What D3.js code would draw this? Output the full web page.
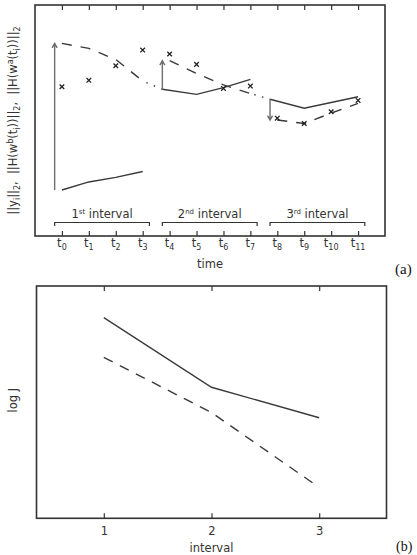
<!DOCTYPE html>
<html>
<head>
<meta charset="utf-8">
<script src="https://cdn.jsdelivr.net/npm/d3@7"></script>
<style>
  html, body { margin: 0; padding: 0; background: #fff; }
  svg { display: block; }
  text { font-family: "DejaVu Sans", sans-serif; fill: #333; }
  .serif { font-family: "Liberation Serif", "DejaVu Serif", serif; fill: #111; }
</style>
</head>
<body>
<svg id="chart" width="417" height="555"></svg>
<script>
// ---------- data: panel (a) ----------
const timeIndex = [0, 1, 2, 3, 4, 5, 6, 7, 8, 9, 10, 11];
const obsValues = [6.46, 6.74, 7.37, 8.05, 7.88, 7.43, 6.39, 6.49, 5.10, 4.87, 5.38, 5.87];

const intervalOrdinal = ["1", "2", "3"];
const intervalSuffix = ["st", "nd", "rd"];
const intervalStart = [-0.27, 3.73, 7.73];
const intervalEnd = [3.25, 7.25, 11.25];

// background trajectory (solid) per interval
const bgTimes1 = [0, 1, 2, 3];      const bgValues1 = [1.99, 2.34, 2.54, 2.79];
const bgTimes2 = [3.73, 5, 6, 7];   const bgValues2 = [6.35, 6.13, 6.42, 6.78];
const bgTimes3 = [7.73, 9, 11];     const bgValues3 = [5.92, 5.53, 6.03];

// analysis trajectory (dashed) per interval
const anTimes1 = [0, 1, 2, 3];      const anValues1 = [8.34, 8.12, 7.64, 6.71];
const anTimes2 = [4, 5, 6, 7];      const anValues2 = [7.59, 7.04, 6.54, 6.17];
const anTimes3 = [8, 9, 10, 11];    const anValues3 = [5.02, 4.87, 5.32, 5.74];

// ---------- data: panel (b) ----------
const intervals = [1, 2, 3];
const logJSolid = [8.64, 5.64, 4.33];
const logJDashed = [6.93, 4.55, 1.33];

// ---------- drawing ----------
const svg = d3.select("#chart");
const frameColor = "#333";
const lineColor = "#3a3a3a";
const arrowColor = "#6e6e6e";
const SP = "\u00a0\u00a0";

// Panel (a)
const A = { left: 35, right: 385, top: 5, bottom: 236 };
const xA = d3.scaleLinear().domain([-1, 12]).range([A.left, A.right]);
const yA = d3.scaleLinear().domain([0, 10]).range([A.bottom, A.top]);
const gA = svg.append("g");

gA.append("rect").attr("x", A.left).attr("y", A.top)
  .attr("width", A.right - A.left).attr("height", A.bottom - A.top)
  .attr("fill", "none").attr("stroke", frameColor).attr("stroke-width", 1.6);

// ticks inward top & bottom
const axBottomA = d3.axisBottom(xA).tickValues(timeIndex).tickSize(-5).tickFormat("");
const axTopA = d3.axisTop(xA).tickValues(timeIndex).tickSize(-5).tickFormat("");
gA.append("g").attr("transform", `translate(0,${A.bottom})`).call(axBottomA)
  .call(g => { g.select(".domain").remove(); g.selectAll("line").attr("stroke", frameColor).attr("stroke-width", 1.2); });
gA.append("g").attr("transform", `translate(0,${A.top})`).call(axTopA)
  .call(g => { g.select(".domain").remove(); g.selectAll("line").attr("stroke", frameColor).attr("stroke-width", 1.2); });

// tick labels t_i
const tl = gA.append("g").selectAll("text").data(timeIndex).join("text")
  .attr("x", d => xA(d)).attr("y", 247).attr("text-anchor", "middle")
  .attr("font-size", 11.5);
tl.append("tspan").text("t");
tl.append("tspan").attr("dy", 3).attr("font-size", 8).text(d => d);

gA.append("text").attr("x", xA(5.5)).attr("y", 268).attr("text-anchor", "middle")
  .attr("font-size", 11.5).text("time");

svg.append("text").attr("class", "serif").attr("x", 395).attr("y", 274)
  .attr("font-size", 15).text("(a)");

// y label
const yl = gA.append("text").attr("transform", `translate(17,${(A.top + A.bottom) / 2}) rotate(-90)`)
  .attr("text-anchor", "middle").attr("font-size", 11.5);
yl.append("tspan").text("||y");
yl.append("tspan").attr("dy", 3).attr("font-size", 8).text("i");
yl.append("tspan").attr("dy", -3).text("||");
yl.append("tspan").attr("dy", 3).attr("font-size", 8).text("2");
yl.append("tspan").attr("dy", -3).text("," + SP + "||H(w");
yl.append("tspan").attr("dy", -4).attr("font-size", 8).text("b");
yl.append("tspan").attr("dy", 4).text("(t");
yl.append("tspan").attr("dy", 3).attr("font-size", 8).text("i");
yl.append("tspan").attr("dy", -3).text("))||");
yl.append("tspan").attr("dy", 3).attr("font-size", 8).text("2");
yl.append("tspan").attr("dy", -3).text("," + SP + "||H(w");
yl.append("tspan").attr("dy", -4).attr("font-size", 8).text("a");
yl.append("tspan").attr("dy", 4).text("(t");
yl.append("tspan").attr("dy", 3).attr("font-size", 8).text("i");
yl.append("tspan").attr("dy", -3).text("))||");
yl.append("tspan").attr("dy", 3).attr("font-size", 8).text("2");

// brackets and labels
const brY = 222.5;
intervalStart.forEach((s, i) => {
  const x0 = xA(s), x1 = xA(intervalEnd[i]);
  gA.append("path").attr("d", `M${x0},${brY + 3.5}V${brY}H${x1}V${brY + 3.5}`)
    .attr("fill", "none").attr("stroke", frameColor).attr("stroke-width", 1.2);
  const t = gA.append("text").attr("x", (x0 + x1) / 2).attr("y", 217.5)
    .attr("text-anchor", "middle").attr("font-size", 11.5);
  t.append("tspan").text(intervalOrdinal[i]);
  t.append("tspan").attr("dy", -4).attr("font-size", 7).text(intervalSuffix[i]);
  t.append("tspan").attr("dy", 4).text("\u00a0interval");
});

const lineA = d3.line().x(d => xA(d[0])).y(d => yA(d[1]));
const zip = (a, b) => a.map((v, i) => [v, b[i]]);

// background (solid)
[[bgTimes1, bgValues1], [bgTimes2, bgValues2], [bgTimes3, bgValues3]].forEach(([t, v]) => {
  gA.append("path").attr("d", lineA(zip(t, v))).attr("fill", "none")
    .attr("stroke", lineColor).attr("stroke-width", 1.4);
});
// analysis (dashed)
[[anTimes1, anValues1], [anTimes2, anValues2], [anTimes3, anValues3]].forEach(([t, v]) => {
  gA.append("path").attr("d", lineA(zip(t, v))).attr("fill", "none")
    .attr("stroke", lineColor).attr("stroke-width", 1.4).attr("stroke-dasharray", "10,9");
});
// forecast (dotted) from end of analysis to next interval start
const anEndsT = [anTimes1[anTimes1.length - 1], anTimes2[anTimes2.length - 1]];
const anEndsV = [anValues1[anValues1.length - 1], anValues2[anValues2.length - 1]];
const nextStartV = [bgValues2[0], bgValues3[0]];
anEndsT.forEach((t, i) => {
  gA.append("path").attr("d", lineA([[t, anEndsV[i]], [intervalStart[i + 1], nextStartV[i]]]))
    .attr("fill", "none").attr("stroke", lineColor).attr("stroke-width", 1.4)
    .attr("stroke-dasharray", "1.5,6.5").attr("stroke-dashoffset", -4);
});

// increment arrows at interval start
const arrowFrom = [bgValues1[0], bgValues2[0], bgValues3[0]];
const arrowTo = [anValues1[0], anValues2[0], anValues3[0]];
intervalStart.forEach((s, i) => {
  const x = xA(s), y0 = yA(arrowFrom[i]), y1 = yA(arrowTo[i]);
  const dir = y1 < y0 ? 1 : -1;
  gA.append("path").attr("d", `M${x},${y0}V${y1}M${x - 2.5},${y1 + dir * 4.5}L${x},${y1}L${x + 2.5},${y1 + dir * 4.5}`)
    .attr("fill", "none").attr("stroke", arrowColor).attr("stroke-width", 1.4);
});

// observations (crosses)
gA.append("g").selectAll("path").data(zip(timeIndex, obsValues)).join("path")
  .attr("transform", d => `translate(${xA(d[0])},${yA(d[1])})`)
  .attr("d", "M-2.3,-2.3L2.3,2.3M-2.3,2.3L2.3,-2.3")
  .attr("stroke", "#222").attr("stroke-width", 1.3);

// Panel (b)
const B = { left: 36.5, right: 386.5, top: 286, bottom: 518.3 };
const xB = d3.scaleLinear().domain([0.375, 3.625]).range([B.left, B.right]);
const yB = d3.scaleLinear().domain([0, 10]).range([B.bottom, B.top]);
const gB = svg.append("g");
gB.append("rect").attr("x", B.left).attr("y", B.top)
  .attr("width", B.right - B.left).attr("height", B.bottom - B.top)
  .attr("fill", "none").attr("stroke", frameColor).attr("stroke-width", 1.6);

gB.append("g").attr("transform", `translate(0,${B.bottom})`)
  .call(d3.axisBottom(xB).tickValues(intervals).tickSize(-5).tickFormat(d3.format("d")).tickPadding(9))
  .call(g => {
    g.select(".domain").remove();
    g.selectAll("line").attr("stroke", frameColor).attr("stroke-width", 1.2);
    g.selectAll("text").attr("font-size", 11.5).attr("font-family", "DejaVu Sans, sans-serif").attr("fill", "#333");
  });
gB.append("g").attr("transform", `translate(0,${B.top})`)
  .call(d3.axisTop(xB).tickValues(intervals).tickSize(-5).tickFormat(""))
  .call(g => { g.select(".domain").remove(); g.selectAll("line").attr("stroke", frameColor).attr("stroke-width", 1.2); });

gB.append("text").attr("x", xB(2)).attr("y", 552).attr("text-anchor", "middle")
  .attr("font-size", 11.5).text("interval");
gB.append("text").attr("transform", `translate(17,${(B.top + B.bottom) / 2 - 2}) rotate(-90)`)
  .attr("text-anchor", "middle").attr("font-size", 11.5).text("log J");
svg.append("text").attr("class", "serif").attr("x", 396).attr("y", 551)
  .attr("font-size", 14).text("(b)");

const lineB = d3.line().x(d => xB(d[0])).y(d => yB(d[1]));
gB.append("path").attr("d", lineB(zip(intervals, logJSolid))).attr("fill", "none")
  .attr("stroke", lineColor).attr("stroke-width", 1.4);
gB.append("path").attr("d", lineB(zip(intervals, logJDashed))).attr("fill", "none")
  .attr("stroke", lineColor).attr("stroke-width", 1.4).attr("stroke-dasharray", "10,8");
</script>
</body>
</html>
